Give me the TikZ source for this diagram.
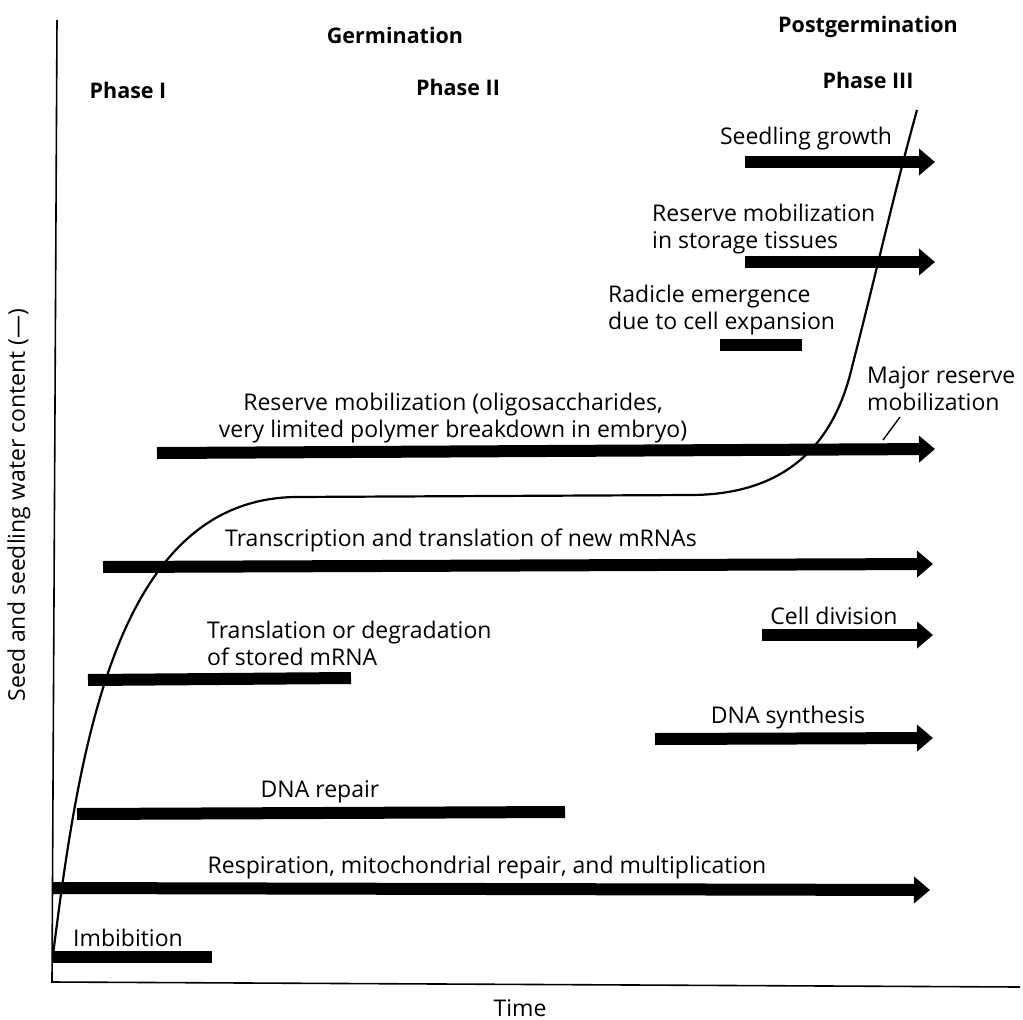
\documentclass[tikz,border=0pt]{standalone}
\usepackage{fontspec}
\setmainfont{Open Sans}
\usetikzlibrary{arrows.meta}
\begin{document}
\begin{tikzpicture}[x=1pt,y=-1pt,
  lbl/.style={inner sep=0pt,yshift=-3pt,font=\fontsize{23}{27}\selectfont},
  head/.style={inner sep=0pt,font=\fontsize{21.5}{24}\selectfont\bfseries},
  bar/.style={line width=12pt,line cap=butt},
  bararrow/.style={line width=12pt,line cap=butt,-{Triangle[length=16pt,width=26pt]}},
  axis/.style={line width=1.6pt},
  curve/.style={line width=2.2pt}]
\useasboundingbox (0,0) rectangle (1023,1020);
\fill[white] (0,0) rectangle (1023,1020);
% axes
\coordinate (ytop) at (57,20);
\coordinate (origin) at (52,982);
\coordinate (xend) at (1020,987);
\draw[axis] (ytop) -- (origin) -- (xend);
\node[lbl,rotate=90,yshift=3pt] (ylab) at (22,502) {Seed and seedling water content (—)};
\node[lbl] (time) at (520,1005) {Time};
% headings
\node[head] (germ) at (395,35) {Germination};
\node[head] (post) at (868,27) {Postgermination};
\node[head] (ph1) at (128,90) {Phase I};
\node[head] (ph2) at (458,87) {Phase II};
\node[head] (ph3) at (868,80) {Phase III};
% water content curve
\draw[curve] (53,955) .. controls (80,740) and (118,500) .. (295,497)
  -- (690,495) .. controls (790,495) and (835,440) .. (852,367)
  .. controls (872,290) and (896,185) .. (917,110);
% seedling growth
\node[lbl] (sg) at (806,136) {Seedling growth};
\coordinate (sgA) at (745,162); \coordinate (sgB) at (935,162);
\draw[bararrow] (sgA) -- (sgB);
% reserve mobilization in storage tissues
\node[lbl,anchor=west,align=left] (rst) at (652,226) {Reserve mobilization\\in storage tissues};
\coordinate (rstA) at (745,262); \coordinate (rstB) at (935,262);
\draw[bararrow] (rstA) -- (rstB);
% radicle emergence
\node[lbl,anchor=west,align=left] (rad) at (608,307) {Radicle emergence\\due to cell expansion};
\coordinate (radA) at (720,345); \coordinate (radB) at (802,345);
\draw[bar] (radA) -- (radB);
% major reserve mobilization
\node[lbl,anchor=west,align=left] (maj) at (867,386) {Major reserve\\mobilization};
\coordinate (majA) at (900,417); \coordinate (majB) at (883,440);
\draw[line width=1.4pt] (majA) -- (majB);
% reserve mobilization oligosaccharides
\node[lbl,align=center] (rmo) at (453,415) {Reserve mobilization (oligosaccharides,\\very limited polymer breakdown in embryo)};
\coordinate (rmoA) at (157,453); \coordinate (rmoB) at (935,449);
\draw[bararrow] (rmoA) -- (rmoB);
% transcription
\node[lbl] (tr) at (461,537) {Transcription and translation of new mRNAs};
\coordinate (trA) at (103,567); \coordinate (trB) at (933,564);
\draw[bararrow] (trA) -- (trB);
% cell division
\node[lbl] (cd) at (834,613) {Cell division};
\coordinate (cdA) at (762,635); \coordinate (cdB) at (933,635);
\draw[bararrow] (cdA) -- (cdB);
% translation or degradation
\node[lbl,anchor=west,align=left] (tds) at (207,640) {Translation or degradation\\of stored mRNA};
\coordinate (tdsA) at (88,680); \coordinate (tdsB) at (351,678);
\draw[bar] (tdsA) -- (tdsB);
% DNA synthesis
\node[lbl] (dsyn) at (788,715) {DNA synthesis};
\coordinate (dsA) at (655,739); \coordinate (dsB) at (933,738);
\draw[bararrow] (dsA) -- (dsB);
% DNA repair
\node[lbl] (drep) at (320,789) {DNA repair};
\coordinate (drA) at (77,814); \coordinate (drB) at (565,812);
\draw[bar] (drA) -- (drB);
% respiration
\node[lbl] (resp) at (487,865) {Respiration, mitochondrial repair, and multiplication};
\coordinate (reA) at (52,888); \coordinate (reB) at (930,890);
\draw[bararrow] (reA) -- (reB);
% imbibition
\node[lbl] (imb) at (128,935) {Imbibition};
\coordinate (imA) at (53,957); \coordinate (imB) at (212,957);
\draw[bar] (imA) -- (imB);
\end{tikzpicture}
\end{document}
